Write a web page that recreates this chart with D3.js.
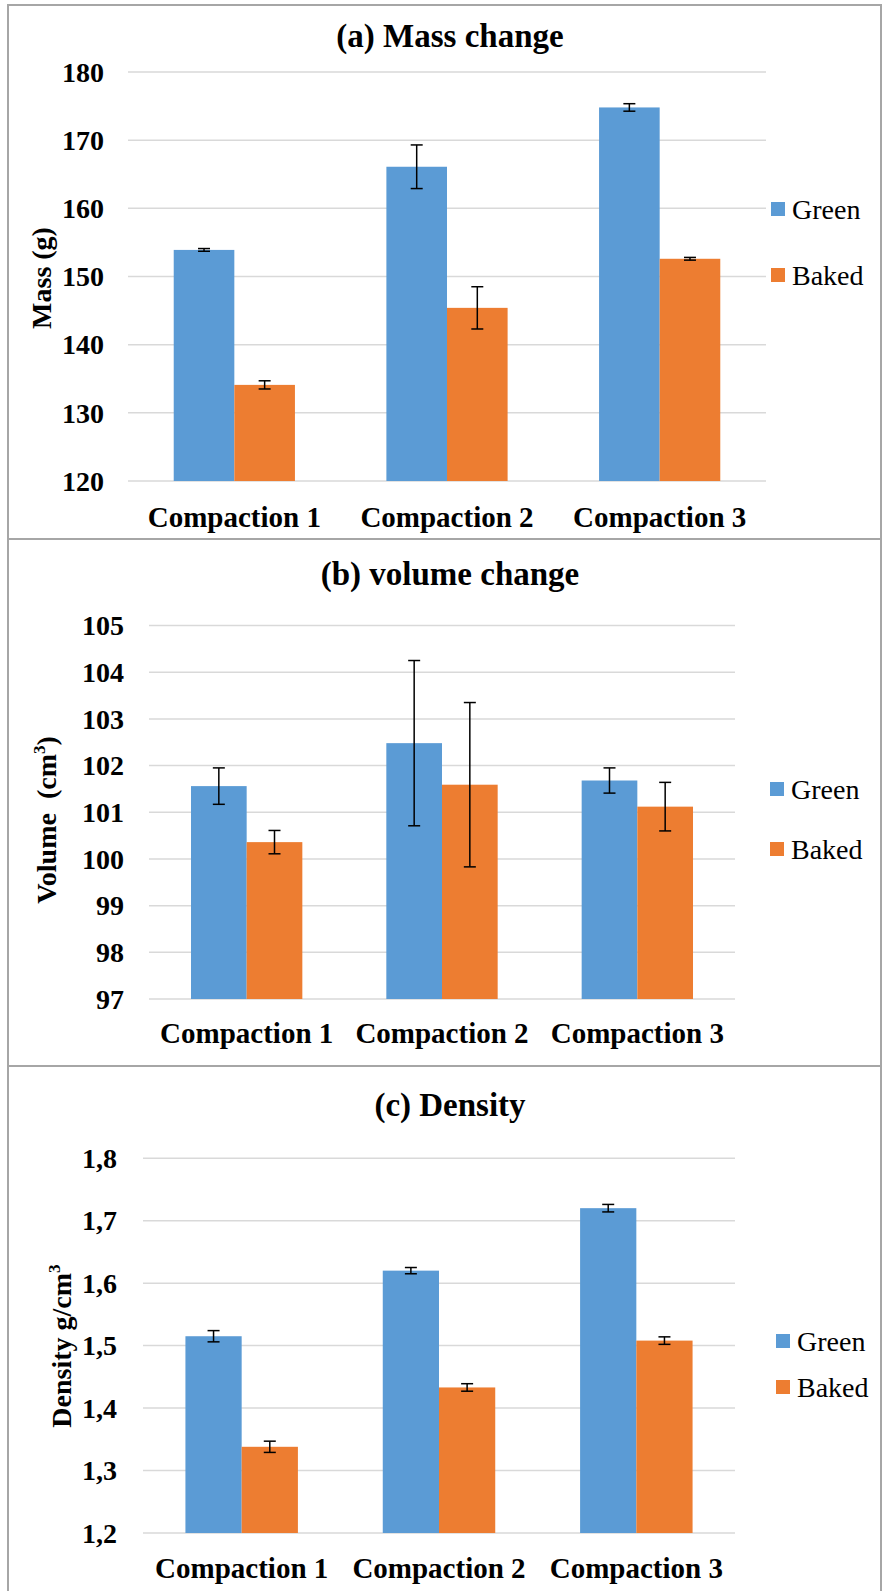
<!DOCTYPE html>
<html>
<head>
<meta charset="utf-8">
<script src="https://cdn.jsdelivr.net/npm/d3@7"></script>
<style>
  body { margin: 0; background: #fff; }
</style>
</head>
<body>
<svg id="drawing_region" font-family="'Liberation Serif', 'Times New Roman', Times, serif"></svg>
<script>
// ---- data ----
const categories = ["Compaction 1", "Compaction 2", "Compaction 3"];
const seriesNames = ["Green", "Baked"];
const seriesColors = ["#5b9bd5", "#ed7d31"];

const massGreen = [153.9, 166.1, 174.8];
const massGreenErr = [0.2, 3.2, 0.55];
const massBaked = [134.1, 145.4, 152.6];
const massBakedErr = [0.6, 3.1, 0.2];
const massTicks = [120, 130, 140, 150, 160, 170, 180];

const volumeGreen = [101.56, 102.48, 101.68];
const volumeGreenErr = [0.39, 1.77, 0.27];
const volumeBaked = [100.36, 101.59, 101.12];
const volumeBakedErr = [0.25, 1.76, 0.52];
const volumeTicks = [97, 98, 99, 100, 101, 102, 103, 104, 105];

const densityGreen = [1.515, 1.620, 1.720];
const densityGreenErr = [0.009, 0.005, 0.006];
const densityBaked = [1.338, 1.433, 1.508];
const densityBakedErr = [0.009, 0.006, 0.006];
const densityTicks = [1.2, 1.3, 1.4, 1.5, 1.6, 1.7, 1.8];

const W = 883, H = 1591;
const FONT = "'Liberation Serif', 'Times New Roman', Times, serif";

const svg = d3.select('#drawing_region')
    .attr('width', W)
    .attr('height', H);

// panels: layout in pixels
const panels = [
    {
        title: "(a) Mass change", titleY: 47,
        box: [5, 539],
        x: [128, 766], y: [481, 72],
        ticks: massTicks, fmt: d => d, tickX: 104,
        values: [massGreen, massBaked], errs: [massGreenErr, massBakedErr],
        catY: 527,
        ylabel: [{t: "Mass (g)"}], ylabelX: 41, ylabelY: 278,
        legendY: [209, 275], legendX: 771
    },
    {
        title: "(b) volume change", titleY: 585,
        box: [539, 1066],
        x: [149, 735], y: [999, 625.5],
        ticks: volumeTicks, fmt: d => d, tickX: 124,
        values: [volumeGreen, volumeBaked], errs: [volumeGreenErr, volumeBakedErr],
        catY: 1043,
        ylabel: [{t: "Volume\u00a0 (cm"}, {t: "3", sup: true}, {t: ")", after: true}], ylabelX: 46, ylabelY: 820,
        legendY: [789, 849], legendX: 770
    },
    {
        title: "(c) Density", titleY: 1116,
        box: [1066, 1600],
        x: [143, 735], y: [1533, 1158.2],
        ticks: densityTicks, fmt: d => d3.format('.1f')(d).replace('.', ','), tickX: 117,
        values: [densityGreen, densityBaked], errs: [densityGreenErr, densityBakedErr],
        catY: 1578,
        ylabel: [{t: "Density g/cm"}, {t: "3", sup: true}], ylabelX: 61, ylabelY: 1346,
        legendY: [1341, 1387], legendX: 776
    }
];

panels.forEach(p => drawPanel(p));

function drawPanel(p) {
    const g = svg.append('g').attr('font-family', FONT);

    // frame
    g.append('rect')
        .attr('x', 8).attr('y', p.box[0])
        .attr('width', W - 10).attr('height', p.box[1] - p.box[0])
        .attr('fill', 'none')
        .attr('stroke', '#a6a6a6')
        .attr('stroke-width', 2);

    const yScale = d3.scaleLinear()
        .domain([p.ticks[0], p.ticks[p.ticks.length - 1]])
        .range(p.y);

    const x0 = d3.scaleBand()
        .domain(categories)
        .range(p.x)
        .paddingInner(0.43)
        .paddingOuter(0.215);

    const x1 = d3.scaleBand()
        .domain(seriesNames)
        .range([0, x0.bandwidth()]);

    // gridlines
    g.selectAll('.grid')
        .data(p.ticks)
        .enter()
        .append('line')
        .attr('x1', p.x[0]).attr('x2', p.x[1])
        .attr('y1', d => yScale(d)).attr('y2', d => yScale(d))
        .attr('stroke', '#d9d9d9')
        .attr('stroke-width', 1.5);

    // tick labels
    g.selectAll('.tick')
        .data(p.ticks)
        .enter()
        .append('text')
        .attr('x', p.tickX)
        .attr('y', d => yScale(d))
        .attr('dy', '0.35em')
        .attr('text-anchor', 'end')
        .attr('font-size', 28)
        .attr('font-weight', 'bold')
        .text(p.fmt);

    // bars
    const rows = [];
    categories.forEach((c, i) => {
        seriesNames.forEach((s, j) => {
            rows.push({cat: c, series: s, j: j, value: p.values[j][i], err: p.errs[j][i]});
        });
    });

    g.selectAll('.bar')
        .data(rows)
        .enter()
        .append('rect')
        .attr('x', d => x0(d.cat) + x1(d.series))
        .attr('y', d => yScale(d.value))
        .attr('width', x1.bandwidth())
        .attr('height', d => yScale(p.ticks[0]) - yScale(d.value))
        .attr('fill', d => seriesColors[d.j]);

    // error bars
    const cx = d => x0(d.cat) + x1(d.series) + x1.bandwidth() / 2;
    const eg = g.selectAll('.err')
        .data(rows)
        .enter()
        .append('g')
        .attr('stroke', '#000')
        .attr('stroke-width', 1.5);
    eg.append('line')
        .attr('x1', cx).attr('x2', cx)
        .attr('y1', d => yScale(d.value + d.err))
        .attr('y2', d => yScale(d.value - d.err));
    eg.append('line')
        .attr('x1', d => cx(d) - 6).attr('x2', d => cx(d) + 6)
        .attr('y1', d => yScale(d.value + d.err))
        .attr('y2', d => yScale(d.value + d.err));
    eg.append('line')
        .attr('x1', d => cx(d) - 6).attr('x2', d => cx(d) + 6)
        .attr('y1', d => yScale(d.value - d.err))
        .attr('y2', d => yScale(d.value - d.err));

    // category labels
    g.selectAll('.cat')
        .data(categories)
        .enter()
        .append('text')
        .attr('x', d => x0(d) + x0.bandwidth() / 2)
        .attr('y', p.catY)
        .attr('text-anchor', 'middle')
        .attr('font-size', 29)
        .attr('font-weight', 'bold')
        .text(d => d);

    // title
    g.append('text')
        .attr('x', 450)
        .attr('y', p.titleY)
        .attr('text-anchor', 'middle')
        .attr('font-size', 33)
        .attr('font-weight', 'bold')
        .text(p.title);

    // y axis label
    const yl = g.append('text')
        .attr('transform', `translate(${p.ylabelX}, ${p.ylabelY}) rotate(-90)`)
        .attr('text-anchor', 'middle')
        .attr('dy', '0.35em')
        .attr('font-size', 28)
        .attr('font-weight', 'bold');
    p.ylabel.forEach(part => {
        const ts = yl.append('tspan').text(part.t);
        if (part.sup) ts.attr('font-size', 17).attr('dy', -11);
        if (part.after) ts.attr('dy', 11);
    });

    // legend
    seriesNames.forEach((s, j) => {
        g.append('rect')
            .attr('x', p.legendX)
            .attr('y', p.legendY[j] - 7)
            .attr('width', 14).attr('height', 14)
            .attr('fill', seriesColors[j]);
        g.append('text')
            .attr('x', p.legendX + 21)
            .attr('y', p.legendY[j])
            .attr('dy', '0.35em')
            .attr('font-size', 28)
            .text(s);
    });
}
</script>
</body>
</html>
